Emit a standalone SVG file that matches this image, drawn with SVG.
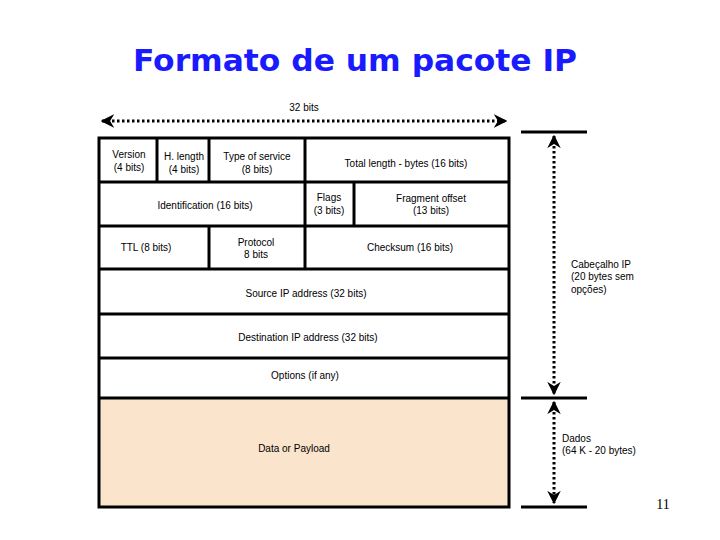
<svg xmlns="http://www.w3.org/2000/svg" width="720" height="540" viewBox="0 0 720 540">
<defs>
<style>
.t{font-family:"Liberation Sans",Arial,sans-serif;font-size:10px;fill:#000;text-anchor:middle}
.tl{font-family:"Liberation Sans",Arial,sans-serif;font-size:10px;fill:#000}
.b{stroke:#000;stroke-width:3;fill:none}
.d{stroke:#000;stroke-width:3;stroke-dasharray:2.5 2.5;fill:none}
.s{stroke:#000;stroke-width:3}
</style>
<marker id="ah" viewBox="0 0 10 10" refX="9" refY="5" markerWidth="4.5" markerHeight="4.5" orient="auto-start-reverse" markerUnits="strokeWidth">
<path d="M0,0 L10,5 L0,10 L3,5 Z" fill="#000"/>
</marker>
</defs>
<rect width="720" height="540" fill="#fff"/>
<text x="355" y="71" font-family="'Comic Sans MS','DejaVu Sans',sans-serif" font-weight="bold" font-size="31" fill="#1a1aff" text-anchor="middle" textLength="444" lengthAdjust="spacingAndGlyphs">Formato de um pacote IP</text>

<g id="payload"><rect x="99" y="398" width="410" height="109" fill="#fae4cc"/><text class="t" x="294" y="452">Data or Payload</text></g>

<g id="version"><text class="t" x="129" y="158">Version</text><text class="t" x="129" y="171">(4 bits)</text></g>
<g id="hlength"><text class="t" x="184" y="160">H. length</text><text class="t" x="184" y="173">(4 bits)</text></g>
<g id="tos"><text class="t" x="257" y="160">Type of service</text><text class="t" x="257" y="173">(8 bits)</text></g>
<g id="totallength"><text class="t" x="406" y="167">Total length - bytes (16 bits)</text></g>
<g id="identification"><text class="t" x="205" y="209">Identification (16 bits)</text></g>
<g id="flags"><text class="t" x="329" y="201">Flags</text><text class="t" x="329" y="214">(3 bits)</text></g>
<g id="fragment"><text class="t" x="431" y="202">Fragment offset</text><text class="t" x="431" y="214">(13 bits)</text></g>
<g id="ttl"><text class="t" x="146" y="251">TTL (8 bits)</text></g>
<g id="protocol"><text class="t" x="256" y="246">Protocol</text><text class="t" x="256" y="258">8 bits</text></g>
<g id="checksum"><text class="t" x="410" y="251">Checksum (16 bits)</text></g>
<g id="source"><text class="t" x="306" y="297">Source IP address (32 bits)</text></g>
<g id="destination"><text class="t" x="308" y="341">Destination IP address (32 bits)</text></g>
<g id="options"><text class="t" x="305" y="379">Options (if any)</text></g>

<g id="grid">
<rect class="b" x="99" y="138" width="410" height="369"/>
<line class="s" x1="99" y1="182" x2="509" y2="182"/>
<line class="s" x1="99" y1="226" x2="509" y2="226"/>
<line class="s" x1="99" y1="269" x2="509" y2="269"/>
<line class="s" x1="99" y1="314" x2="509" y2="314"/>
<line class="s" x1="99" y1="358" x2="509" y2="358"/>
<line class="s" x1="99" y1="398" x2="509" y2="398"/>
<line class="s" x1="157" y1="138" x2="157" y2="182"/>
<line class="s" x1="209" y1="138" x2="209" y2="182"/>
<line class="s" x1="305" y1="138" x2="305" y2="269"/>
<line class="s" x1="354" y1="182" x2="354" y2="226"/>
<line class="s" x1="209" y1="226" x2="209" y2="269"/>
</g>

<g id="connectors">
<line class="d" x1="102" y1="121" x2="506" y2="121" marker-start="url(#ah)" marker-end="url(#ah)"/>
<line class="s" x1="521" y1="132" x2="587" y2="132"/>
<line class="s" x1="521" y1="398" x2="587" y2="398"/>
<line class="s" x1="521" y1="507" x2="587" y2="507"/>
<line class="d" x1="554" y1="136" x2="554" y2="394" marker-start="url(#ah)" marker-end="url(#ah)"/>
<line class="d" x1="554" y1="402" x2="554" y2="503" marker-start="url(#ah)" marker-end="url(#ah)"/>
</g>

<text class="t" x="304" y="111">32 bits</text>
<g id="cabecalho"><text class="tl" x="571" y="268">Cabeçalho IP</text><text class="tl" x="571" y="280">(20 bytes sem</text><text class="tl" x="571" y="293">opções)</text></g>
<g id="dados"><text class="tl" x="562" y="442">Dados</text><text class="tl" x="562" y="454">(64 K - 20 bytes)</text></g>
<text x="663" y="509" font-family="'Liberation Serif','Times New Roman',serif" font-size="14" text-anchor="middle">11</text>
</svg>
